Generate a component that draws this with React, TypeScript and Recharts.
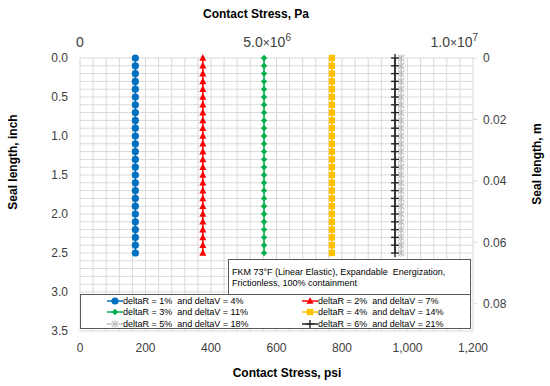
import React from "react";
import {
  ScatterChart,
  Scatter,
  XAxis,
  YAxis,
  CartesianGrid,
  Legend,
  Label,
} from "recharts";

const FONT = "'Liberation Sans', Arial, sans-serif";

// Seal length positions (inch) where contact stress was sampled
const sealLengthIn = [
  0, 0.1, 0.2, 0.3, 0.4, 0.5, 0.6, 0.7, 0.8, 0.9, 1.0, 1.1, 1.2, 1.3, 1.4,
  1.5, 1.6, 1.7, 1.8, 1.9, 2.0, 2.1, 2.2, 2.3, 2.4, 2.5,
];

// Contact stress (psi) for each case
const stressR1 = [
  169, 169, 169, 169, 169, 169, 169, 169, 169, 169, 169, 169, 169, 169, 169,
  169, 169, 169, 169, 169, 169, 169, 169, 169, 169, 169,
];
const stressR2 = [
  375, 375, 375, 375, 375, 375, 375, 375, 375, 375, 375, 375, 375, 375, 375,
  375, 375, 375, 375, 375, 375, 375, 375, 375, 375, 375,
];
const stressR3 = [
  562, 562, 562, 562, 562, 562, 562, 562, 562, 562, 562, 562, 562, 562, 562,
  562, 562, 562, 562, 562, 562, 562, 562, 562, 562, 562,
];
const stressR4 = [
  769, 769, 769, 769, 769, 769, 769, 769, 769, 769, 769, 769, 769, 769, 769,
  769, 769, 769, 769, 769, 769, 769, 769, 769, 769, 769,
];
const stressR5 = [
  981, 981, 981, 981, 981, 981, 981, 981, 981, 981, 981, 981, 981, 981, 981,
  981, 981, 981, 981, 981, 981, 981, 981, 981, 981, 981,
];
const stressR6 = [
  962, 962, 962, 962, 962, 962, 962, 962, 962, 962, 962, 962, 962, 962, 962,
  962, 962, 962, 962, 962, 962, 962, 962, 962, 962, 962,
];

const seriesNames = [
  "deltaR = 1%  and deltaV = 4%",
  "deltaR = 2%  and deltaV = 7%",
  "deltaR = 3%  and deltaV = 11%",
  "deltaR = 4%  and deltaV = 14%",
  "deltaR = 5%  and deltaV = 18%",
  "deltaR = 6%  and deltaV = 21%",
];
const seriesColors = ["#0070C0", "#FF0000", "#00B050", "#FFC000", "#BFBFBF", "#262626"];
const seriesMarkers = ["circle", "triangle", "diamond", "square", "star", "plus"];
const seriesValues = [stressR1, stressR2, stressR3, stressR4, stressR5, stressR6];

// axis ticks
const psiTicks = [0, 200, 400, 600, 800, 1000, 1200];
const inchTicks = [0, 0.5, 1.0, 1.5, 2.0, 2.5, 3.0, 3.5];
const meterTicks = [0, 0.02, 0.04, 0.06, 0.08];
const paTicks = [0, 5e6, 1e7];

const PSI_MAX = 1200;
const IN_MAX = 3.5;
const PSI_TO_PA = 6894.76;
const IN_TO_M = 0.0254;

// minor gridlines (Excel style: 5 minor per major)
const psiGrid = Array.from({ length: 31 }, (_, i) => i * 40);
const inchGrid = Array.from({ length: 36 }, (_, i) => i / 10);

const drawMarker = (kind: string, color: string, cx: number, cy: number) => {
  switch (kind) {
    case "circle":
      return <circle cx={cx} cy={cy} r={3.6} fill={color} />;
    case "triangle":
      return (
        <polygon
          points={`${cx},${cy - 4} ${cx - 3.5},${cy + 2.8} ${cx + 3.5},${cy + 2.8}`}
          fill={color}
        />
      );
    case "diamond":
      return (
        <polygon
          points={`${cx},${cy - 3.2} ${cx + 3.2},${cy} ${cx},${cy + 3.2} ${cx - 3.2},${cy}`}
          fill={color}
        />
      );
    case "square":
      return <rect x={cx - 3.2} y={cy - 3.2} width={6.4} height={6.4} fill={color} />;
    case "star":
      return (
        <g stroke={color} strokeWidth={1.2}>
          <line x1={cx - 3.2} y1={cy - 3.2} x2={cx + 3.2} y2={cy + 3.2} />
          <line x1={cx - 3.2} y1={cy + 3.2} x2={cx + 3.2} y2={cy - 3.2} />
          <line x1={cx} y1={cy - 3.8} x2={cx} y2={cy + 3.8} />
        </g>
      );
    default:
      return (
        <g stroke={color} strokeWidth={1.4}>
          <line x1={cx - 4} y1={cy} x2={cx + 4} y2={cy} />
          <line x1={cx} y1={cy - 4} x2={cx} y2={cy + 4} />
        </g>
      );
  }
};

// "5.0×10⁶" style labels with a real superscript
const renderPaTick = (props: any) => {
  const { x, y, payload } = props;
  const v = payload.value;
  const common = { x, y, textAnchor: "middle" as const, fontSize: 14, fill: "#404040", fontFamily: FONT };
  if (v === 0) return <text {...common}>0</text>;
  const exp = Math.floor(Math.log10(v));
  const mant = (v / Math.pow(10, exp)).toFixed(1);
  return (
    <text {...common}>
      {mant}
      <tspan fontSize={12}>×</tspan>
      10
      <tspan dy={-6} fontSize={10}>
        {exp}
      </tspan>
    </text>
  );
};

const title = (text: string, x: number, y: number, rotate = false) => () =>
  (
    <text
      x={x}
      y={y}
      textAnchor="middle"
      dominantBaseline="central"
      fontSize={12}
      fontWeight="bold"
      fill="#000"
      fontFamily={FONT}
      transform={rotate ? `rotate(-90 ${x} ${y})` : undefined}
    >
      {text}
    </text>
  );

const LegendBox = () => (
  <div style={{ position: "relative", width: 391, height: 70, fontFamily: FONT, fontSize: 9, color: "#000" }}>
    <div
      style={{
        position: "absolute",
        left: 148,
        top: 0,
        width: 243,
        height: 36,
        boxSizing: "border-box",
        border: "1px solid #595959",
        background: "#fff",
        padding: "7px 3px 0 3px",
        lineHeight: "10.5px",
        fontSize: 9,
      }}
    >
      FKM 73°F (Linear Elastic), Expandable&nbsp; Energization,
      <br />
      Frictionless, 100% containment
    </div>
    <div
      style={{
        position: "absolute",
        left: 0,
        top: 35,
        width: 391,
        height: 35,
        boxSizing: "border-box",
        border: "1px solid #595959",
        background: "#fff",
        display: "grid",
        gridTemplateColumns: "195px 195px",
        gridAutoRows: "11.5px",
      }}
    >
      {seriesNames.map((name, i) => (
        <div
          key={name}
          style={{ display: "flex", alignItems: "center", paddingLeft: 26, whiteSpace: "pre" }}
        >
          <svg width={16} height={10}>
            <line x1={0} y1={5} x2={16} y2={5} stroke={seriesColors[i]} strokeWidth={1.5} />
            {drawMarker(seriesMarkers[i], seriesColors[i], 8, 5)}
          </svg>
          <span>{name}</span>
        </div>
      ))}
    </div>
  </div>
);

const App = () => {
  const tickStyle = { fontSize: 12, fill: "#404040", fontFamily: FONT };
  // same results in SI units, so the top and right axes carry data too
  const siData = seriesValues.flatMap((vals) =>
    sealLengthIn.map((d, j) => ({ pa: vals[j] * PSI_TO_PA, m: d * IN_TO_M }))
  );
  return (
    <div style={{ position: "absolute", left: 0, top: 0, width: 550, height: 386, background: "#fff" }}>
      <ScatterChart width={550} height={386} margin={{ top: 0, right: 0, bottom: 0, left: 0 }}>
        <CartesianGrid
          xAxisId="psi"
          yAxisId="in"
          stroke="#D9D9D9"
          verticalCoordinatesGenerator={({ offset }: any) =>
            psiGrid.map((v) => offset.left + (v / PSI_MAX) * offset.width)
          }
          horizontalCoordinatesGenerator={({ offset }: any) =>
            inchGrid.map((v) => offset.top + (v / IN_MAX) * offset.height)
          }
        />
        <XAxis
          xAxisId="psi"
          type="number"
          dataKey="psi"
          orientation="bottom"
          domain={[0, PSI_MAX]}
          ticks={psiTicks}
          height={55}
          axisLine={false}
          tickLine={false}
          tickSize={0}
          tickMargin={12}
          tick={tickStyle}
          tickFormatter={(v: number) => v.toLocaleString("en-US")}
        >
          <Label content={title("Contact Stress, psi", 287, 373)} />
        </XAxis>
        <XAxis
          xAxisId="pa"
          type="number"
          dataKey="pa"
          orientation="top"
          domain={[0, 1.05e7]}
          ticks={paTicks}
          interval={0}
          allowDataOverflow
          height={58}
          axisLine={false}
          tickLine={false}
          tickSize={0}
          tickMargin={11}
          tick={renderPaTick}
        >
          <Label content={title("Contact Stress, Pa", 256, 14)} />
        </XAxis>
        <YAxis
          yAxisId="in"
          type="number"
          dataKey="depth"
          orientation="left"
          reversed
          domain={[0, IN_MAX]}
          ticks={inchTicks}
          width={80}
          axisLine={false}
          tickLine={false}
          tickSize={0}
          tickMargin={12}
          tick={tickStyle}
          tickFormatter={(v: number) => v.toFixed(1)}
        >
          <Label content={title("Seal length, inch", 13, 162, true)} />
        </YAxis>
        <YAxis
          yAxisId="m"
          type="number"
          dataKey="m"
          orientation="right"
          reversed
          domain={[0, IN_MAX * IN_TO_M]}
          ticks={meterTicks}
          allowDataOverflow
          width={77}
          axisLine={false}
          tickLine={{ stroke: "#D9D9D9" }}
          tickSize={4}
          tickMargin={6}
          tick={{ ...tickStyle, textAnchor: "start" }}
          tickFormatter={(v: number) => (v === 0 ? "0" : v.toFixed(2))}
        >
          <Label content={title("Seal length, m", 537, 164, true)} />
        </YAxis>
        {seriesValues.map((vals, i) => (
          <Scatter
            key={seriesNames[i]}
            name={seriesNames[i]}
            xAxisId="psi"
            yAxisId="in"
            data={sealLengthIn.map((d, j) => ({ psi: vals[j], depth: d }))}
            fill={seriesColors[i]}
            line={{ stroke: seriesColors[i], strokeWidth: 1.5 }}
            lineType="joint"
            isAnimationActive={false}
            shape={(p: any) => drawMarker(seriesMarkers[i], seriesColors[i], p.cx, p.cy)}
          />
        ))}
        <Scatter
          name="si"
          xAxisId="pa"
          yAxisId="m"
          data={siData}
          legendType="none"
          isAnimationActive={false}
          shape={() => <g />}
        />
        <Legend
          layout="horizontal"
          align="center"
          verticalAlign="middle"
          wrapperStyle={{ left: 80, top: 259, width: 391, height: 70 }}
          content={() => <LegendBox />}
        />
      </ScatterChart>
    </div>
  );
};

export default App;
